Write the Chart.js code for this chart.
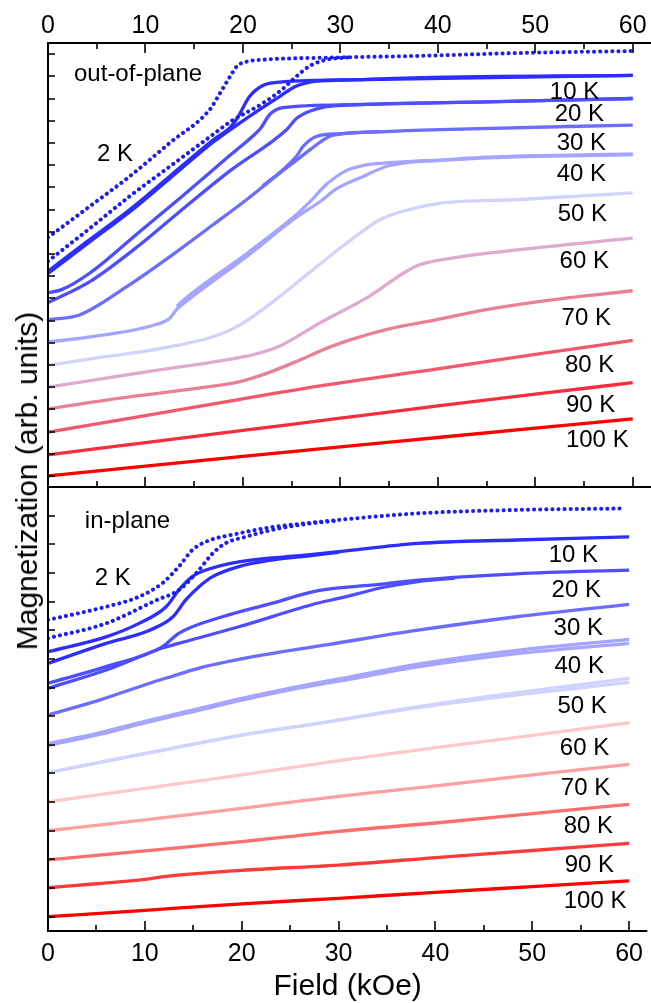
<!DOCTYPE html>
<html>
<head>
<meta charset="UTF-8">
<title>Magnetization vs field</title>
<style>
  body { margin: 0; background: #fff; }
  #wrap { position: relative; width: 651px; height: 1003px; overflow: hidden; background: #fff; }
  #topChart { position: absolute; left: 0; top: 0; }
  #botChart { position: absolute; left: 0; top: 487px; }
  #yTitle {
    position: absolute; left: 27px; top: 481px;
    transform: translate(-50%, -50%) rotate(-90deg);
    font: 30px 'Liberation Sans', Arial, sans-serif;
    white-space: nowrap; color: #000;
  }
</style>
</head>
<body>
<div id="wrap">
  <canvas id="topChart" width="651" height="490"></canvas>
  <canvas id="botChart" width="651" height="516"></canvas>
  <div id="yTitle">Magnetization (arb. units)</div>
</div>
<script src="https://cdn.jsdelivr.net/npm/chart.js"></script>
<script>
const FONT = "'Liberation Sans', Arial, sans-serif";

// ---------------- data: [field (kOe), M (arb. units)] ----------------
// out-of-plane (top panel), two branches where the loop opens
const oop2a = [[0,10.74],[4,12.05],[8.4,13.5],[12.5,15.0],[16.6,16.5],[17.6,17.2],[18.7,18.0],[19.4,18.46],[20.3,18.65],[22.5,18.76],[28.6,18.84],[38,18.92],[48.4,19.05],[60,19.14]];
const oop2b = [[0,9.67],[4,11.05],[8.4,12.6],[13,14.1],[17,15.4],[18.7,15.95],[22.1,16.8],[24,17.4],[25.5,18.0],[27,18.5],[28.5,18.74],[31,18.86]];
const oop10a = [[0,9.22],[4,10.55],[8.4,12.0],[12.5,13.5],[17,15.15],[18.7,15.7],[19.4,16.1],[20.7,17.1],[22.1,17.6],[23.8,17.74],[31,17.84],[38.2,17.94],[60,18.04]];
const oop10b = [[0,9.12],[4,10.45],[8.4,11.9],[12.5,13.4],[17,15.05],[19.7,15.9],[21.7,16.5],[23.8,17.1],[25.5,17.56],[27.6,17.78],[31,17.84],[60,18.04]];
const oop20a = [[0,8.25],[1.4,8.39],[4.3,9.14],[9.4,11.0],[13.5,12.5],[18.7,14.45],[21.0,15.3],[21.8,15.65],[22.8,16.3],[24.1,16.59],[31,16.72],[45,16.85],[60,17.0]];
const oop20b = [[0,7.8],[4.3,8.75],[9.4,10.4],[13.5,11.9],[18.7,13.75],[24.5,15.6],[25.5,16.1],[27,16.45],[28.2,16.6],[31,16.7],[45,16.85],[60,17.0]];
const oop30a = [[0,7.03],[3.3,7.26],[8,8.5],[13.5,10.19],[16.9,11.3],[20.4,12.45],[23.8,13.65],[25.3,14.15],[26.9,14.7],[28.9,15.3],[30,15.4],[34,15.5],[40.2,15.6],[60,15.8]];
const oop30b = [[22,13.05],[24,13.75],[25.5,14.4],[26.2,14.85],[27.6,15.3],[30,15.42],[34,15.52]];
const oop40a = [[0,6.03],[6,6.36],[11,6.81],[12.5,7.1],[13.2,7.5],[13.5,7.62],[20.4,9.89],[25.5,11.65],[27.9,12.35],[29.5,12.9],[32.4,13.5],[34.8,13.95],[37,14.12],[40,14.2],[45,14.33],[60,14.47]];
const oop40b = [[13.2,7.62],[13.5,7.76],[20.4,10.02],[25.5,11.78],[27,12.4],[28.5,13.1],[30.6,13.75],[32.5,14.0],[34.1,14.08],[36.5,14.15],[40,14.22],[45,14.36],[60,14.5]];
const oop50 = [[0,4.98],[6,5.38],[10,5.62],[13.5,5.9],[17,6.28],[19.7,6.8],[23.8,8.09],[27.2,9.29],[30.7,10.5],[34.1,11.55],[37.5,12.05],[40.2,12.28],[48.4,12.45],[60,12.75]];
const oop60 = [[0,4.0],[10,4.68],[18.3,5.23],[21,5.45],[23.8,5.85],[27.9,6.89],[33,8.1],[36.5,9.14],[38.2,9.52],[41.6,9.82],[48.4,10.19],[60,10.71]];
const oop70 = [[0,3.02],[8.7,3.58],[15.6,3.96],[19.7,4.25],[22.5,4.63],[25.9,5.23],[28.9,5.8],[31,6.13],[34.8,6.6],[39.9,7.04],[45,7.49],[51.9,7.94],[60,8.34]];
const oop80 = [[0,1.97],[10,2.72],[19.7,3.45],[28.9,4.12],[40,4.82],[50,5.47],[60,6.1]];
const oop90 = [[0,0.95],[10,1.5],[20,2.05],[30,2.6],[40,3.15],[50,3.68],[60,4.2]];
const oop100 = [[0,0],[10,0.44],[20,0.88],[30,1.31],[40,1.73],[50,2.15],[60,2.57]];

// in-plane (bottom panel)
const ip2a = [[0,10.36],[6,10.82],[9.4,11.17],[11.8,11.64],[13.5,12.22],[14.9,12.8],[16.3,13.09],[19.7,13.38],[23.1,13.6],[26.5,13.73],[30,13.85],[38.2,14.08],[48.4,14.2],[59.5,14.25]];
const ip2b = [[0,9.72],[6,10.24],[11.2,11.05],[13.5,11.4],[15.3,11.99],[17,12.68],[18.3,13.03],[20.4,13.26],[23.1,13.5],[26.5,13.7],[30,13.83]];
const ip10a = [[0,9.25],[6,9.77],[9.4,10.24],[12.2,10.82],[13.5,11.4],[14.9,11.87],[16.3,12.1],[19.7,12.39],[26.5,12.62],[30,12.74],[38.2,13.03],[48.4,13.15],[60,13.26]];
const ip10b = [[0,8.84],[6,9.54],[10.5,10.0],[12.9,10.47],[14.2,11.05],[15.6,11.52],[17,11.87],[19.7,12.22],[23.1,12.45],[27,12.6],[30,12.72]];
const ip20a = [[0,8.15],[6,8.73],[11.8,9.42],[13.5,9.89],[18,10.47],[23.1,10.94],[27.9,11.38],[34.7,11.62],[38.2,11.75],[48.4,11.97],[60,12.1]];
const ip20b = [[0,7.97],[6,8.61],[11.8,9.38],[13.5,9.54],[19.7,10.12],[27.9,10.95],[30,11.11],[34.7,11.5],[38.2,11.7],[42,11.82]];
const ip30 = [[0,7.04],[5.3,7.56],[10.5,8.15],[12.9,8.4],[15.6,8.68],[22.4,9.15],[28.9,9.5],[38.2,10.0],[48.4,10.47],[60,10.9]];
const ip40a = [[0,6.04],[5.3,6.42],[10.1,6.83],[15,7.22],[20,7.62],[25,7.98],[30,8.3],[38.2,8.82],[48.4,9.3],[60,9.68]];
const ip40b = [[0,5.98],[5.3,6.36],[10.1,6.77],[15,7.16],[20,7.56],[25,7.92],[30,8.22],[38.2,8.72],[48.4,9.18],[60,9.54]];
const ip50a = [[0,5.03],[10.1,5.7],[20,6.34],[28.9,6.8],[38.2,7.33],[48.4,7.82],[60,8.32]];
const ip50b = [[0,5.03],[10.1,5.7],[20,6.34],[28.9,6.8],[38.2,7.3],[48.4,7.74],[60,8.18]];
const ip60 = [[0,4.01],[10,4.48],[20,4.95],[30,5.45],[40,5.9],[50,6.33],[60,6.77]];
const ip70 = [[0,3.0],[10,3.38],[20,3.78],[30,4.2],[40,4.57],[50,4.95],[60,5.32]];
const ip80 = [[0,1.98],[10,2.3],[20,2.62],[30,2.98],[40,3.27],[50,3.6],[60,3.92]];
const ip90 = [[0,1.01],[5,1.15],[10,1.3],[12,1.4],[14,1.47],[20,1.62],[30,1.8],[40,2.06],[50,2.31],[60,2.56]];
const ip100 = [[0,0],[10,0.22],[20,0.45],[30,0.64],[40,0.85],[50,1.05],[60,1.25]];

// curve labels
const tempLabels = ['10 K','20 K','30 K','40 K','50 K','60 K','70 K','80 K','90 K','100 K'];
// label anchors (field, M at text baseline)
const oopLabelX = [51.5, 52.0, 52.2, 52.2, 52.3, 52.5, 52.7, 53.05, 53.15, 53.15];
const oopLabelY = [16.99, 15.98, 14.7, 13.27, 11.47, 9.37, 6.81, 4.7, 2.9, 1.32];
const ipLabelX = [51.7, 52.0, 52.2, 52.3, 52.6, 52.85, 52.95, 53.25, 53.35, 53.25];
const ipLabelY = [12.39, 11.17, 9.83, 8.5, 7.1, 5.64, 4.25, 2.91, 1.57, 0.29];

const xMajor = [0, 10, 20, 30, 40, 50, 60];
const xMinor = [5, 15, 25, 35, 45, 55];

// --------------------------------------------------------------------
function curve(pts, color, extra) {
  return Object.assign({
    data: pts.map(p => ({x: p[0], y: p[1]})),
    borderColor: color,
    borderWidth: 3.3,
    pointRadius: 0,
    fill: false,
    cubicInterpolationMode: 'monotone'
  }, extra || {});
}
const dotted = {borderDash: [0.1, 6], borderCapStyle: 'round', borderWidth: 4};

// frame, inward ticks, text labels
const framePlugin = {
  id: 'frame',
  afterDraw(chart, args, o) {
    const {ctx, chartArea: a, scales: {x, y}} = chart;
    ctx.save();
    ctx.strokeStyle = '#000';
    ctx.lineWidth = 2;
    ctx.beginPath();
    ctx.moveTo(a.left, a.top); ctx.lineTo(a.left, a.bottom + 1);
    ctx.moveTo(a.left - 1, a.bottom); ctx.lineTo(a.right, a.bottom);
    if (o.top) { ctx.moveTo(a.left - 1, a.top); ctx.lineTo(a.right, a.top); }
    ctx.stroke();

    ctx.lineWidth = 1.6;
    ctx.beginPath();
    const xt = xMajor.map(v => [v, 10]).concat(xMinor.map(v => [v, 6]));
    xt.forEach(([v, len]) => {
      const px = Math.round(x.getPixelForValue(v));
      ctx.moveTo(px, a.bottom); ctx.lineTo(px, a.bottom - len);
      if (o.top) { ctx.moveTo(px, a.top); ctx.lineTo(px, a.top + len); }
    });
    for (let v = 0; v <= o.yTickMax; v++) {
      const py = Math.round(y.getPixelForValue(v));
      ctx.moveTo(a.left, py); ctx.lineTo(a.left + 7, py);
    }
    ctx.stroke();

    ctx.fillStyle = '#000';
    ctx.font = '24px ' + FONT;
    ctx.textBaseline = 'alphabetic';
    ctx.textAlign = 'left';
    o.notes.forEach(n => ctx.fillText(n[0], x.getPixelForValue(n[1]), y.getPixelForValue(n[2])));
    tempLabels.forEach((t, i) => ctx.fillText(t, x.getPixelForValue(o.lx[i]), y.getPixelForValue(o.ly[i])));
    ctx.restore();
  }
};

function xScale(pos, h, withTitle) {
  return {
    type: 'linear', position: pos, min: 0, max: 61.88,
    grid: {display: false, drawTicks: false},
    border: {display: false},
    ticks: {
      stepSize: 10, includeBounds: false, autoSkip: false, maxRotation: 0,
      color: '#000', font: {family: FONT, size: 25},
      padding: pos === 'top' ? 2 : 8
    },
    title: withTitle ? {display: true, text: 'Field (kOe)', color: '#000',
      font: {family: FONT, size: 30, lineHeight: 1.1}, padding: {top: 0, bottom: 0}} : {display: false},
    afterFit(s) { s.height = h; }
  };
}
function yScale(max) {
  return {
    type: 'linear', min: -0.5, max: max,
    grid: {display: false, drawTicks: false},
    border: {display: false},
    ticks: {display: false},
    afterFit(s) { s.width = 48; }
  };
}

const C = {
  k2: 'rgb(28,28,245)', k10: 'rgb(45,45,255)', k20: 'rgb(78,78,255)', k30: 'rgb(108,108,255)',
  k40: 'rgb(165,165,255)', k50: 'rgb(210,210,255)'
};

const topChart = new Chart(document.getElementById('topChart'), {
  type: 'line',
  data: {datasets: [
    curve(oop2a, C.k2, dotted), curve(oop2b, C.k2, dotted),
    curve(oop10a, C.k10), curve(oop10b, C.k10),
    curve(oop20a, C.k20), curve(oop20b, C.k20),
    curve(oop30a, C.k30), curve(oop30b, C.k30),
    curve(oop40a, C.k40), curve(oop40b, C.k40),
    curve(oop50, C.k50),
    curve(oop60, 'rgb(222,170,205)'),
    curve(oop70, 'rgb(232,128,152)'),
    curve(oop80, 'rgb(242,88,108)'),
    curve(oop90, 'rgb(250,45,62)'),
    curve(oop100, 'rgb(255,0,0)')
  ]},
  options: {
    responsive: false, animation: false, devicePixelRatio: 1,
    layout: {padding: {left: 0, right: 0, top: 0, bottom: 3}},
    scales: {x: xScale('top', 43, false), y: yScale(19.5)},
    plugins: {
      legend: {display: false}, tooltip: {enabled: false},
      frame: {top: true, yTickMax: 19, lx: oopLabelX, ly: oopLabelY,
        notes: [['out-of-plane', 2.67, 17.78], ['2 K', 5.03, 14.18]]}
    }
  },
  plugins: [framePlugin]
});

const botChart = new Chart(document.getElementById('botChart'), {
  type: 'line',
  data: {datasets: [
    curve(ip2a, C.k2, dotted), curve(ip2b, C.k2, dotted),
    curve(ip10a, C.k10), curve(ip10b, C.k10),
    curve(ip20a, C.k20), curve(ip20b, C.k20),
    curve(ip30, C.k30),
    curve(ip40a, C.k40), curve(ip40b, C.k40),
    curve(ip50a, C.k50), curve(ip50b, C.k50),
    curve(ip60, 'rgb(255,200,200)'),
    curve(ip70, 'rgb(255,160,160)'),
    curve(ip80, 'rgb(255,110,110)'),
    curve(ip90, 'rgb(255,58,58)'),
    curve(ip100, 'rgb(255,0,0)')
  ]},
  options: {
    responsive: false, animation: false, devicePixelRatio: 1,
    layout: {padding: 0},
    scales: {x: xScale('bottom', 72, true), y: yScale(15)},
    plugins: {
      legend: {display: false}, tooltip: {enabled: false},
      frame: {top: false, yTickMax: 14, lx: ipLabelX, ly: ipLabelY,
        notes: [['in-plane', 3.8, 13.58], ['2 K', 4.82, 11.58]]}
    }
  },
  plugins: [framePlugin]
});
</script>
</body>
</html>
